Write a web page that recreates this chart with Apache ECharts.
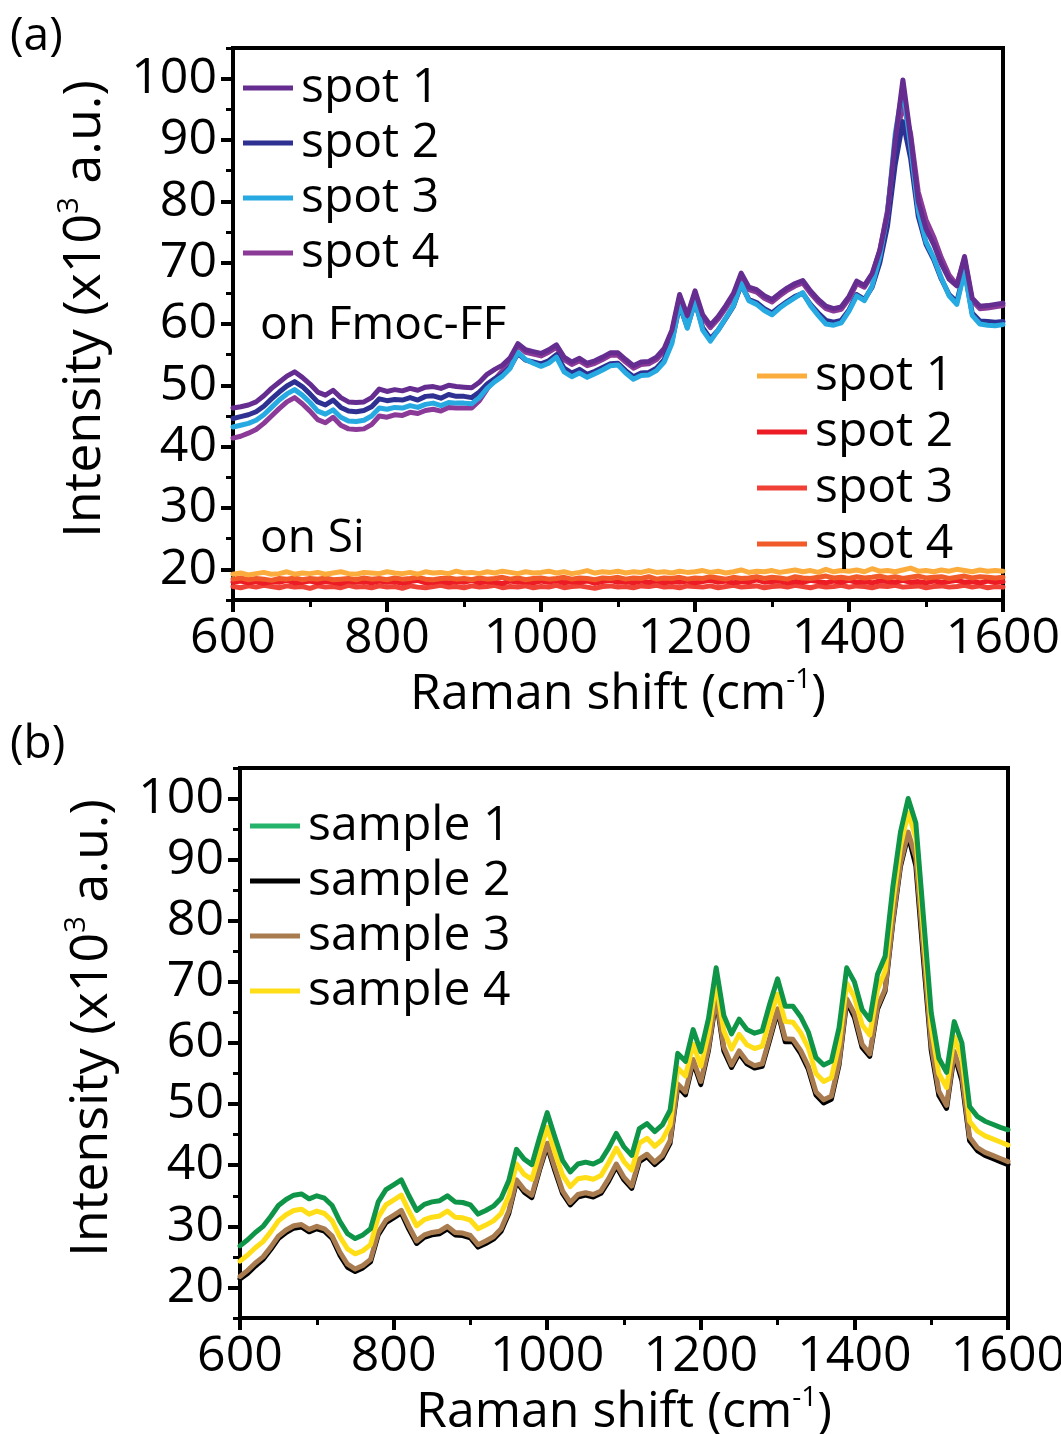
<!DOCTYPE html>
<html>
<head>
<meta charset="utf-8">
<title>Raman spectra</title>
<script src="https://cdn.jsdelivr.net/npm/echarts@6/dist/echarts.min.js"></script>
<style>
  html, body { margin: 0; padding: 0; background: #fff; }
  #chart { width: 1061px; height: 1434px; }
</style>
</head>
<body>
<div id="chart"></div>
<script>
// Raman shift sampling (cm^-1), shared by every spectrum
const wavenumbers = [
  600, 610, 620, 630, 640, 650, 660, 670, 680, 690,
  700, 710, 720, 730, 740, 750, 760, 770, 780, 790,
  800, 810, 820, 830, 840, 850, 860, 870, 880, 890,
  900, 910, 920, 930, 940, 950, 960, 970, 980, 990,
  1000, 1010, 1020, 1030, 1040, 1050, 1060, 1070, 1080, 1090,
  1100, 1110, 1120, 1130, 1140, 1150, 1160, 1170, 1180, 1190,
  1200, 1210, 1220, 1230, 1240, 1250, 1260, 1270, 1280, 1290,
  1300, 1310, 1320, 1330, 1340, 1350, 1360, 1370, 1380, 1390,
  1400, 1410, 1420, 1430, 1440, 1450, 1460, 1470, 1480, 1490,
  1500, 1510, 1520, 1530, 1540, 1550, 1560, 1570, 1580, 1590,
  1600
];

// (a) spectra on Fmoc-FF, intensity in 10^3 a.u.
const fmocSpot1 = [
  46.3, 46.5, 46.8, 47.3, 48.3, 49.5, 50.5, 51.5, 52.2, 51.3,
  50.2, 48.9, 48.4, 49.2, 48.0, 47.3, 47.2, 47.3, 48.0, 49.4,
  49.0, 49.3, 49.1, 49.5, 49.2, 49.7, 49.8, 49.5, 50.0, 49.8,
  49.7, 49.6, 50.5, 51.8, 52.6, 53.3, 54.5, 56.8, 55.8, 55.5,
  55.2, 55.8, 56.6, 54.6, 53.8, 54.4, 53.6, 54.0, 54.6, 55.3,
  55.3, 54.2, 53.2, 53.8, 53.9, 54.6, 56.0, 59.0, 64.8, 61.4,
  65.4, 61.5, 59.8, 61.2, 63.0, 65.0, 68.3, 66.0, 65.6, 64.6,
  64.0, 65.0, 65.9, 66.6, 67.1, 65.4, 64.0, 62.9, 62.5, 62.8,
  64.5, 67.0, 66.3, 68.2, 72.0, 78.0, 90.0, 99.8, 90.5, 80.0,
  75.5, 73.0, 69.8, 67.3, 66.2, 71.0, 64.2, 62.9, 63.0, 63.2,
  63.4
];
const fmocSpot2 = [
  44.6, 44.9, 45.2, 45.7, 46.6, 47.8, 48.9, 49.9, 50.6, 49.8,
  48.6, 47.3, 46.8, 47.6, 46.4, 45.8, 45.7, 45.9, 46.5, 47.8,
  47.5, 47.7, 47.6, 48.0, 47.6, 48.2, 48.3, 47.9, 48.5, 48.2,
  48.2, 48.0, 48.9, 50.2, 51.1, 51.8, 53.0, 55.2, 54.1, 53.8,
  53.5, 54.0, 55.0, 52.8, 52.0, 52.6, 51.8, 52.3, 52.9, 53.5,
  53.6, 52.4, 51.4, 52.0, 52.1, 52.8, 54.2, 57.2, 63.0, 59.5,
  63.6, 59.4, 57.6, 59.0, 60.9, 62.9, 66.4, 64.0, 63.5, 62.5,
  61.8, 62.8, 63.7, 64.5, 65.0, 63.2, 61.8, 60.6, 60.3, 60.6,
  62.3, 64.8, 64.0, 66.0, 70.0, 76.0, 86.0, 93.0, 87.0, 77.5,
  73.0, 70.5, 67.3, 64.8, 63.6, 68.8, 61.8, 60.5, 60.4, 60.3,
  60.4
];
const fmocSpot3 = [
  43.2, 43.5, 43.8, 44.3, 45.2, 46.4, 47.6, 48.6, 49.3, 48.4,
  47.2, 45.8, 45.3, 46.0, 44.8, 44.2, 44.1, 44.3, 45.0, 46.3,
  46.1, 46.4, 46.3, 46.7, 46.4, 46.9, 47.1, 46.7, 47.2, 47.1,
  47.1, 47.0, 48.0, 49.5, 50.6, 51.5, 52.8, 55.4, 54.2, 53.6,
  53.1, 53.6, 54.6, 52.2, 51.4, 52.0, 51.3, 51.9, 52.5, 53.2,
  53.3, 52.0, 51.0, 51.6, 51.7, 52.4, 53.8, 56.8, 63.4, 59.3,
  63.8, 59.0, 57.2, 59.0, 61.0, 63.0, 66.6, 63.8, 63.2, 62.2,
  61.5, 62.6, 63.5, 64.3, 65.1, 63.0, 61.4, 60.0, 59.8, 60.2,
  62.1, 64.6, 63.8, 66.2, 71.0, 78.0, 91.0, 98.5, 89.0, 78.5,
  73.4, 70.8, 67.5, 64.6, 63.2, 68.6, 61.4, 60.0, 59.8, 59.7,
  59.9
];
const fmocSpot4 = [
  41.4, 41.7, 42.2, 42.8, 43.8, 45.0, 46.2, 47.3, 48.0, 47.0,
  45.8, 44.4, 43.9, 44.8, 43.5, 42.9, 42.8, 42.9, 43.6, 45.0,
  44.8, 45.2, 45.1, 45.6, 45.4, 45.9, 46.1, 45.8, 46.4, 46.3,
  46.3, 46.3, 47.5, 49.4, 51.0, 52.4, 54.0, 56.4, 55.4, 55.1,
  54.8, 55.4, 56.2, 54.2, 53.4, 54.0, 53.2, 53.6, 54.2, 54.9,
  54.9, 53.8, 52.8, 53.4, 53.5, 54.2, 55.6, 58.6, 64.4, 61.0,
  65.0, 61.1, 59.4, 60.8, 62.6, 64.6, 67.9, 65.6, 65.2, 64.2,
  63.6, 64.6, 65.5, 66.2, 66.7, 65.0, 63.6, 62.5, 62.1, 62.4,
  64.1, 66.6, 66.0, 68.0, 72.0, 78.5, 89.0, 96.0, 91.0, 81.5,
  77.0, 74.2, 70.8, 68.0, 66.4, 70.6, 63.8, 62.5, 62.6, 62.8,
  63.0
];

// (a) spectra on bare Si
const siSpot1 = [
  19.2, 19.4, 19.1, 19.3, 19.5, 19.2, 19.3, 19.6, 19.2, 19.4,
  19.3, 19.5, 19.2, 19.4, 19.6, 19.3, 19.2, 19.5, 19.4, 19.3,
  19.6, 19.4, 19.3, 19.5, 19.2, 19.6, 19.4, 19.5, 19.3, 19.7,
  19.4, 19.5, 19.3, 19.6, 19.4, 19.7, 19.5, 19.3, 19.6, 19.4,
  19.5, 19.7, 19.4, 19.6, 19.3, 19.5, 19.8, 19.4, 19.6, 19.5,
  19.7, 19.4, 19.6, 19.5, 19.8, 19.5, 19.6, 19.4, 19.7, 19.5,
  19.6, 19.8, 19.5, 19.7, 19.4, 19.6, 19.9, 19.5, 19.7, 19.6,
  19.8, 19.5, 19.7, 19.9, 19.6, 19.8, 19.5, 20.0, 19.6, 19.8,
  19.7, 19.9, 19.6, 20.1, 19.7, 19.8, 19.6, 19.9, 20.2, 19.7,
  19.8, 19.6, 19.9, 19.7, 20.0, 19.8, 19.6, 19.9, 19.7, 19.8,
  19.7
];
const siSpot2 = [
  17.9, 18.1, 17.8, 18.0, 17.7, 18.0, 17.9, 18.2, 17.8, 17.9,
  18.1, 17.8, 18.0, 17.9, 17.7, 18.1, 17.9, 18.0, 17.8, 18.1,
  17.9, 18.0, 17.7, 18.0, 18.2, 17.8, 17.9, 18.1, 17.8, 18.0,
  17.9, 18.2, 17.8, 18.0, 17.9, 17.7, 18.1, 17.9, 18.0, 17.8,
  18.1, 17.9, 18.2, 17.8, 18.0, 17.9, 18.1, 17.7, 18.0, 18.2,
  17.9, 18.0, 17.8, 18.1, 17.9, 18.2, 17.8, 18.0, 17.9, 18.1,
  17.8, 18.0, 18.2, 17.9, 18.1, 17.8, 18.0, 17.9, 18.3, 17.9,
  18.0, 18.1, 17.8, 18.0, 17.9, 18.2, 18.0, 17.8, 18.1, 17.9,
  18.2, 17.9, 18.0, 17.8, 18.1, 18.0, 17.9, 18.2, 17.9, 18.0,
  17.8, 18.1, 17.9, 18.0, 18.2, 17.9, 18.0, 17.8, 18.1, 17.9,
  18.0
];
const siSpot3 = [
  17.2, 17.0, 17.3, 17.1, 17.4, 17.2, 17.0, 17.3, 17.1, 17.2,
  16.9, 17.3, 17.1, 17.2, 17.0, 17.4, 17.1, 17.2, 17.0, 17.3,
  17.1, 17.2, 16.9, 17.3, 17.1, 17.0, 17.2, 17.4, 17.1, 17.2,
  17.0, 17.3, 17.1, 17.2, 17.4, 17.0, 17.2, 17.1, 17.3, 17.0,
  17.2, 17.1, 17.4, 17.0, 17.2, 17.3, 17.1, 16.9, 17.2, 17.3,
  17.1, 17.2, 17.0, 17.3, 17.2, 17.4, 17.1, 17.2, 17.0, 17.3,
  17.2, 17.1, 17.3, 17.0, 17.2, 17.4, 17.1, 17.2, 17.3, 17.0,
  17.2, 17.3, 17.1, 17.4, 17.2, 17.0, 17.3, 17.1, 17.2, 17.4,
  17.1, 17.3, 17.2, 17.0, 17.3, 17.2, 17.4, 17.1, 17.2, 17.3,
  17.0, 17.2, 17.3, 17.1, 17.2, 17.4, 17.1, 17.3, 17.0, 17.2,
  17.1
];
const siSpot4 = [
  18.4, 18.6, 18.3, 18.5, 18.4, 18.2, 18.5, 18.4, 18.6, 18.3,
  18.5, 18.4, 18.6, 18.3, 18.4, 18.5, 18.3, 18.6, 18.4, 18.5,
  18.3, 18.6, 18.4, 18.5, 18.7, 18.4, 18.3, 18.5, 18.6, 18.4,
  18.5, 18.3, 18.6, 18.4, 18.5, 18.7, 18.4, 18.6, 18.3, 18.5,
  18.6, 18.4, 18.5, 18.7, 18.4, 18.6, 18.5, 18.3, 18.6, 18.5,
  18.7, 18.4, 18.6, 18.5, 18.8, 18.4, 18.6, 18.5, 18.7, 18.4,
  18.6, 18.5, 18.8, 18.6, 18.4, 18.7, 18.5, 18.6, 18.8, 18.5,
  18.7, 18.6, 18.4, 18.8, 18.6, 18.5, 18.7, 18.9, 18.6, 18.7,
  18.5, 18.8, 18.6, 18.7, 18.9, 18.6, 18.8, 18.5, 18.7, 18.9,
  18.6, 18.7, 18.8, 18.5, 18.7, 18.9, 18.6, 18.8, 18.7, 18.6,
  18.7
];

// (b) spectra of four samples
const sample1 = [
  26.8, 27.8, 29.0, 30.0, 31.6, 33.4, 34.4, 35.1, 35.3, 34.5,
  35.0, 34.6, 33.4, 30.8, 28.8, 28.0, 28.6, 29.6, 34.0, 36.0,
  36.8, 37.6, 35.0, 32.6, 33.6, 34.0, 34.2, 35.0, 34.0, 33.9,
  33.5, 32.0, 32.6, 33.3, 34.6, 37.5, 42.6, 41.0, 40.1, 44.5,
  48.6, 44.6, 40.8, 38.9, 40.2, 40.5, 40.2, 40.8, 42.8, 45.2,
  43.0, 41.6, 46.0, 46.8, 45.5, 46.6, 49.0, 58.3, 57.0, 62.2,
  58.6, 64.0, 72.3, 64.5, 61.5, 63.9, 62.2, 61.6, 62.0, 66.5,
  70.5, 66.0, 66.0, 64.3, 61.8, 57.6, 56.4, 57.0, 62.5, 72.3,
  70.0, 65.5, 63.8, 71.2, 74.2, 85.5, 94.5, 100.0, 96.0, 80.5,
  65.0, 57.5, 55.2, 63.5, 60.0, 49.6, 48.0, 47.2, 46.7, 46.2,
  45.8
];
const sample2 = [
  21.4, 22.3, 23.5, 24.6, 26.2, 28.0, 29.0, 29.7, 29.9, 29.1,
  29.6, 29.2, 28.0, 25.3, 23.3, 22.6, 23.2, 24.2, 28.6, 30.6,
  31.4, 32.2, 29.5, 27.2, 28.2, 28.6, 28.8, 29.6, 28.6, 28.5,
  28.1, 26.6, 27.2, 27.9, 29.2, 32.1, 37.3, 35.6, 34.7, 39.2,
  43.2, 39.1, 35.4, 33.5, 34.8, 35.1, 34.8, 35.4, 37.4, 39.8,
  37.6, 36.2, 40.6, 41.4, 40.1, 41.2, 43.6, 52.9, 51.5, 56.9,
  53.2, 58.8, 67.2, 58.7, 56.0, 58.3, 56.6, 55.9, 56.2, 60.6,
  65.2, 60.2, 60.2, 58.3, 55.7, 51.5, 50.2, 50.8, 56.4, 66.8,
  64.2, 59.3, 57.8, 65.5, 68.5, 79.6, 88.9, 94.0, 89.0, 73.5,
  58.8, 51.4, 49.3, 58.1, 53.8, 44.0, 42.4, 41.6, 41.1, 40.6,
  40.1
];
const sample3 = [
  21.8, 22.8, 24.0, 25.0, 26.6, 28.4, 29.4, 30.1, 30.3, 29.5,
  30.0, 29.6, 28.4, 25.8, 23.8, 23.0, 23.6, 24.6, 29.0, 31.0,
  31.8, 32.6, 30.0, 27.6, 28.6, 29.0, 29.2, 30.0, 29.0, 28.9,
  28.5, 27.0, 27.6, 28.3, 29.6, 32.5, 37.6, 36.0, 35.1, 39.5,
  43.6, 39.6, 35.8, 33.9, 35.2, 35.5, 35.2, 35.8, 37.8, 40.2,
  38.0, 36.6, 41.0, 41.8, 40.5, 41.6, 44.0, 53.3, 52.0, 57.3,
  53.7, 59.2, 67.6, 59.3, 56.4, 58.7, 57.0, 56.3, 56.6, 61.0,
  65.6, 60.7, 60.6, 58.8, 56.2, 52.0, 50.7, 51.3, 56.8, 67.2,
  64.8, 59.8, 58.2, 65.9, 68.8, 80.0, 89.3, 94.5, 90.3, 75.0,
  59.7, 52.1, 49.8, 58.6, 54.6, 44.6, 42.9, 42.1, 41.6, 41.1,
  40.6
];
const sample4 = [
  24.3, 25.3, 26.5, 27.5, 29.1, 30.9, 31.9, 32.6, 32.8, 32.0,
  32.5, 32.1, 30.9, 28.3, 26.3, 25.5, 26.0, 27.0, 31.5, 33.5,
  34.3, 35.1, 32.5, 30.1, 31.1, 31.5, 31.7, 32.5, 31.5, 31.4,
  31.0, 29.6, 30.2, 30.9, 32.1, 35.0, 40.2, 38.5, 37.7, 42.0,
  46.2, 42.1, 38.4, 36.5, 37.8, 38.0, 37.7, 38.3, 40.4, 42.8,
  40.6, 39.2, 43.6, 44.4, 43.1, 44.2, 46.6, 55.9, 54.6, 59.8,
  56.2, 61.6, 69.9, 62.0, 59.0, 61.4, 59.7, 59.1, 59.5, 64.0,
  68.0, 63.5, 63.4, 61.7, 59.2, 55.0, 53.7, 54.3, 59.8, 69.8,
  67.5, 63.0, 61.3, 68.7, 71.8, 83.0, 92.2, 97.7, 93.6, 78.0,
  62.6, 55.0, 52.7, 61.0, 57.5, 47.2, 45.6, 44.8, 44.3, 43.8,
  43.3
];

// Axis ticks
const xTickStep = 200;
const yLabelTicks = [20, 30, 40, 50, 60, 70, 80, 90, 100];
const yMinorTicks = [15, 25, 35, 45, 55, 65, 75, 85, 95, 105];

const FONT = '"Open Sans", "Noto Sans", sans-serif';
const INK = '#000';

function pairs(ys) {
  return wavenumbers.map((x, i) => [x, ys[i]]);
}

function spectrum(name, ys, lineColor, panel, keyColor) {
  return {
    type: 'line',
    name: name,
    data: pairs(ys),
    xAxisIndex: panel,
    yAxisIndex: panel * 2,
    symbol: 'none',
    showSymbol: false,
    silent: true,
    animation: false,
    lineStyle: { color: lineColor, width: 5, cap: 'round', join: 'round' },
    itemStyle: { color: keyColor || lineColor }
  };
}

function xAxisFor(panel) {
  return {
    type: 'value', gridIndex: panel, position: 'bottom',
    min: 600, max: 1600, interval: xTickStep,
    axisLine: { show: true, onZero: false, lineStyle: { color: INK, width: 4 } },
    axisTick: { show: true, inside: false, length: 12, lineStyle: { color: INK, width: 4 } },
    minorTick: { show: true, splitNumber: 2, length: 7, lineStyle: { color: INK, width: 3 } },
    splitLine: { show: false }, minorSplitLine: { show: false },
    axisLabel: { fontFamily: FONT, fontSize: 50, color: INK, margin: 14, formatter: v => String(v) },
    name: '{n|Raman shift (cm}{s|-1}{n|)}',
    nameLocation: 'middle', nameGap: 66,
    nameTextStyle: {
      fontFamily: FONT, fontSize: 50, color: INK,
      rich: {
        n: { fontFamily: FONT, fontSize: 50, color: INK, lineHeight: 58 },
        s: { fontFamily: FONT, fontSize: 28, color: INK, lineHeight: 30, verticalAlign: 'top' }
      }
    }
  };
}

function yAxesFor(panel) {
  return [
    {
      type: 'value', gridIndex: panel, position: 'left', offset: 0, min: 15, max: 105,
      axisLine: { show: true, onZero: false, lineStyle: { color: INK, width: 4 } },
      axisTick: { show: true, inside: false, length: 12, customValues: yLabelTicks, lineStyle: { color: INK, width: 4 } },
      axisLabel: { customValues: yLabelTicks, fontFamily: FONT, fontSize: 50, color: INK, margin: 16 },
      splitLine: { show: false },
      name: '{n|Intensity (x10}{s|3}{n| a.u.)}',
      nameLocation: 'middle', nameGap: 118, nameRotate: 90,
      nameTextStyle: {
        fontFamily: FONT, fontSize: 52, color: INK, padding: [0, 0, 0, 30],
        rich: {
          n: { fontFamily: FONT, fontSize: 52, color: INK, lineHeight: 60 },
          s: { fontFamily: FONT, fontSize: 29, color: INK, lineHeight: 30, verticalAlign: 'top' }
        }
      }
    },
    {
      // shorter ticks halfway between the labelled ones
      type: 'value', gridIndex: panel, position: 'left', offset: 0, min: 15, max: 105,
      axisLine: { show: false, onZero: false },
      axisTick: { show: true, inside: false, length: 7, customValues: yMinorTicks, lineStyle: { color: INK, width: 3 } },
      axisLabel: { show: false },
      splitLine: { show: false }
    }
  ];
}

function legendBox(names, left, top, stripPrefix, gap) {
  return {
    data: names, orient: 'vertical', left: left, top: top, padding: 0,
    icon: 'rect', itemWidth: 50, itemHeight: 5, itemGap: gap,
    selectedMode: false,
    formatter: stripPrefix ? (n => n.replace(stripPrefix, '')) : '{name}',
    textStyle: { fontFamily: FONT, fontSize: 48, lineHeight: 48, color: INK, padding: [0, 0, 0, 3] }
  };
}

const chart = echarts.init(document.getElementById('chart'), null, { renderer: 'canvas', width: 1061, height: 1434 });

chart.setOption({
  backgroundColor: '#fff',
  animation: false,
  grid: [
    { left: 233, top: 48, width: 770, height: 552, show: true, borderColor: INK, borderWidth: 4, backgroundColor: 'transparent', outerBoundsMode: 'none' },
    { left: 240, top: 768, width: 768, height: 550, show: true, borderColor: INK, borderWidth: 4, backgroundColor: 'transparent', outerBoundsMode: 'none' }
  ],
  xAxis: [xAxisFor(0), xAxisFor(1)],
  yAxis: [...yAxesFor(0), ...yAxesFor(1)],
  legend: [
    legendBox(['Fmoc-FF spot 1', 'Fmoc-FF spot 2', 'Fmoc-FF spot 3', 'Fmoc-FF spot 4'], 243, 64, 'Fmoc-FF ', 7),
    legendBox(['Si spot 1', 'Si spot 2', 'Si spot 3', 'Si spot 4'], 757, 352, 'Si ', 8),
    legendBox(['sample 1', 'sample 2', 'sample 3', 'sample 4'], 250, 802, null, 7)
  ],
  graphic: [
    { type: 'text', left: 10, top: 14, silent: true, style: { text: '(a)', fontFamily: FONT, fontSize: 46, fill: INK } },
    { type: 'text', left: 10, top: 722, silent: true, style: { text: '(b)', fontFamily: FONT, fontSize: 46, fill: INK } },
    { type: 'text', left: 260, top: 303, silent: true, style: { text: 'on Fmoc-FF', fontFamily: FONT, fontSize: 46, fill: INK } },
    { type: 'text', left: 260, top: 516, silent: true, style: { text: 'on Si', fontFamily: FONT, fontSize: 46, fill: INK } }
  ],
  series: [
    spectrum('Si spot 3', siSpot3, '#ef4136', 0),
    spectrum('Si spot 2', siSpot2, '#ed1c24', 0),
    spectrum('Si spot 4', siSpot4, '#f15a29', 0),
    spectrum('Si spot 1', siSpot1, '#fbac3c', 0),
    spectrum('Fmoc-FF spot 4', fmocSpot4, '#8b3a98', 0),
    spectrum('Fmoc-FF spot 2', fmocSpot2, '#2e3192', 0),
    spectrum('Fmoc-FF spot 3', fmocSpot3, '#27aae1', 0),
    spectrum('Fmoc-FF spot 1', fmocSpot1, '#662d91', 0),
    spectrum('sample 2', sample2, '#000000', 1),
    spectrum('sample 3', sample3, '#a97c50', 1),
    spectrum('sample 4', sample4, '#ffde17', 1),
    spectrum('sample 1', sample1, '#0f9548', 1, '#25b26a')
  ]
});
</script>
</body>
</html>
